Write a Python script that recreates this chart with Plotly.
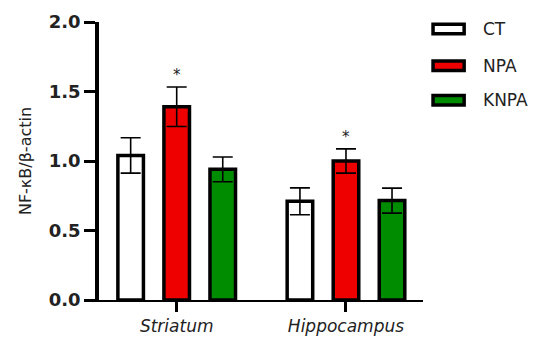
import plotly.graph_objects as go

regions = ["Striatum", "Hippocampus"]
groups = ["CT", "NPA", "KNPA"]
values = {
    "CT": [1.04, 0.71],
    "NPA": [1.39, 1.00],
    "KNPA": [0.94, 0.715],
}
errors = {
    "CT": [0.127, 0.097],
    "NPA": [0.142, 0.087],
    "KNPA": [0.089, 0.09],
}
colors = {"CT": "#ffffff", "NPA": "#ee0000", "KNPA": "#008c00"}
y_ticks = [0.0, 0.5, 1.0, 1.5, 2.0]
y_ticklabels = ["0.0", "0.5", "1.0", "1.5", "2.0"]
significant = {"NPA": [True, True]}

xpos = list(range(len(regions)))

fig = go.Figure()
for g in groups:
    fig.add_trace(go.Bar(
        x=xpos, y=values[g], name=g,
        marker=dict(color=colors[g], line=dict(color="black", width=3.5)),
        error_y=dict(type="data", array=errors[g], color="black", thickness=1.6, width=10),
        showlegend=False,
    ))

# asterisks above significant bars (NPA is the middle bar of each group)
for g, flags in significant.items():
    for i, f in enumerate(flags):
        if f:
            fig.add_annotation(x=xpos[i], y=values[g][i] + errors[g][i], xref="x", yref="y",
                               text="*", showarrow=False, yanchor="bottom", yshift=1,
                               font=dict(family="DejaVu Sans", size=15, color="#222"))

# legend drawn as swatches in paper coordinates
leg_y = [0.975, 0.8426, 0.7187]
for g, yc in zip(groups, leg_y):
    fig.add_shape(type="rect", xref="paper", yref="paper",
                  x0=1.031, x1=1.127, y0=yc - 0.017, y1=yc + 0.017,
                  fillcolor=colors[g], line=dict(color="black", width=3.5))
    fig.add_annotation(xref="paper", yref="paper", x=1.18, y=yc, text=g,
                       xanchor="left", yanchor="middle", showarrow=False,
                       font=dict(family="DejaVu Sans", size=17, color="#222"))

fig.update_layout(
    width=540, height=338,
    margin=dict(l=99, r=117, t=22, b=38, autoexpand=False),
    paper_bgcolor="white", plot_bgcolor="white",
    barmode="group", bargap=0.184, bargroupgap=0.445,
    showlegend=False,
)
fig.update_xaxes(
    range=[-0.459, 1.455], tickvals=xpos, ticktext=regions,
    showline=True, linecolor="black", linewidth=2,
    ticks="outside", ticklen=10, tickwidth=2.5, tickcolor="black",
    tickfont=dict(family="DejaVu Sans", size=17, color="#222", style="italic"),
    showgrid=False, zeroline=False, automargin=False,
)
fig.update_yaxes(
    range=[0, 2.0], tickvals=y_ticks, ticktext=y_ticklabels,
    showline=True, linecolor="black", linewidth=3.5,
    ticks="outside", ticklen=11, tickwidth=3, tickcolor="black",
    tickfont=dict(family="DejaVu Sans", size=18, color="#222", weight="bold"),
    title=dict(text="NF-κB/β-actin", font=dict(family="DejaVu Sans", size=16, color="#222"), standoff=14),
    showgrid=False, zeroline=False, automargin=False,
)

fig.write_html("out.html", config={"displayModeBar": False},
               post_script="document.body.style.margin='0';document.body.style.overflow='hidden';")
